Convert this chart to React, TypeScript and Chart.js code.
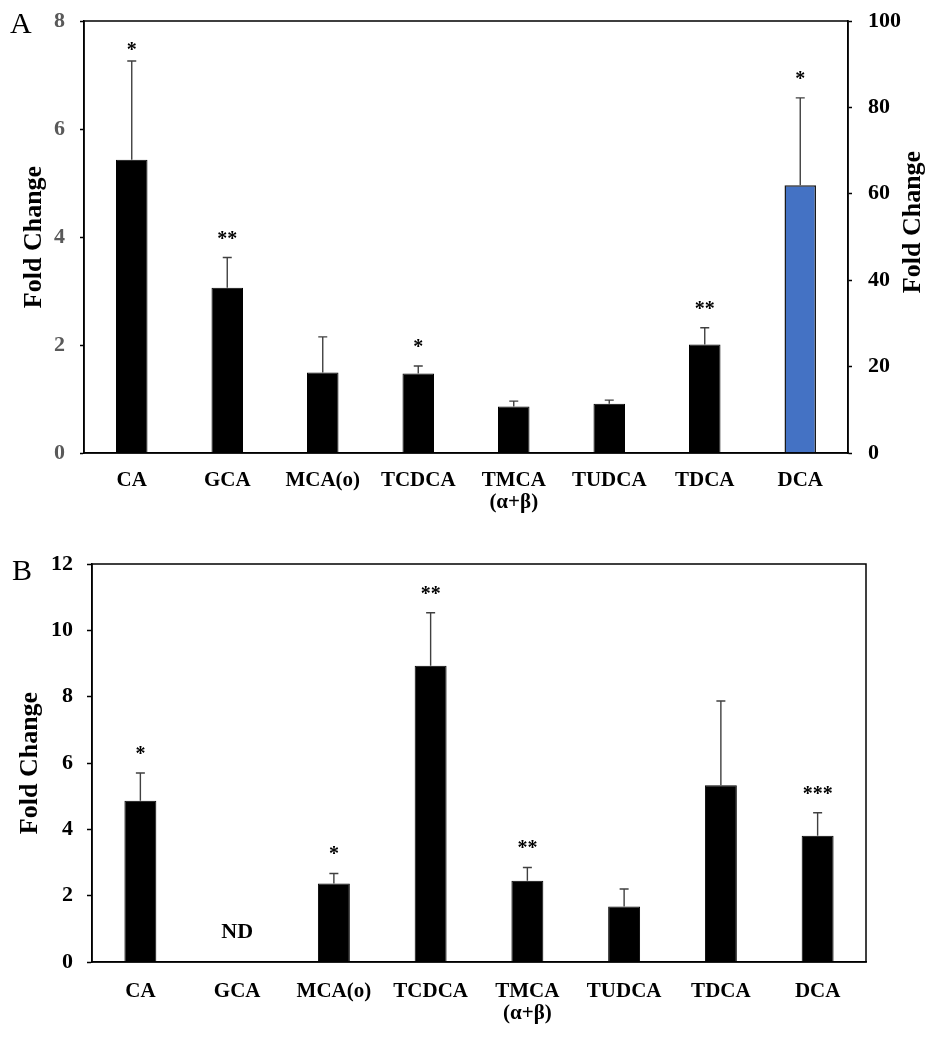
import React, { useEffect, useRef } from "react";
import { Chart, registerables } from "chart.js";
Chart.register(...registerables);

const FONT = "'Times New Roman', 'Liberation Serif', serif";

const categories: (string | string[])[] = ["CA", "GCA", "MCA(o)", "TCDCA", ["TMCA", "(α+β)"], "TUDCA", "TDCA", "DCA"];

// Panel A (left axis: first seven; right axis: DCA)
const aLeftValues = [5.43, 3.06, 1.49, 1.47, 0.86, 0.91, 2.01, null];
const aLeftErrors = [1.83, 0.56, 0.66, 0.14, 0.1, 0.07, 0.31, null];
const aRightValues = [null, null, null, null, null, null, null, 62.0];
const aRightErrors = [null, null, null, null, null, null, null, 20.2];
const aStars = ["*", "**", "", "*", "", "", "**", "*"];
const aLeftTicks = [0, 2, 4, 6, 8];
const aRightTicks = [0, 20, 40, 60, 80, 100];

// Panel B
const bValues = [4.86, null, 2.37, 8.93, 2.45, 1.67, 5.33, 3.81];
const bErrors = [0.84, null, 0.3, 1.6, 0.4, 0.53, 2.54, 0.69];
const bStars = ["*", "", "*", "**", "**", "", "", "***"];
const bNotes = ["", "ND", "", "", "", "", "", ""];
const bTicks = [0, 2, 4, 6, 8, 10, 12];

const annotPlugin = {
  id: "annot",
  afterDatasetsDraw(chart: any, _args: any, opts: any) {
    const ctx = chart.ctx;
    const area = chart.chartArea;
    ctx.save();
    const n = chart.data.labels.length;
    for (let i = 0; i < n; i++) {
      let topPx: number | null = null;
      let xPx: number | null = null;
      chart.data.datasets.forEach((ds: any, di: number) => {
        const v = ds.data[i];
        if (v == null) return;
        const meta = chart.getDatasetMeta(di);
        const bar = meta.data[i];
        const yScale = chart.scales[ds.yAxisID];
        xPx = bar.x;
        topPx = bar.y;
        const err = ds.errors ? ds.errors[i] : null;
        if (err != null) {
          const ePx = yScale.getPixelForValue(v + err);
          ctx.strokeStyle = "#404040";
          ctx.lineWidth = 1.4;
          ctx.beginPath();
          ctx.moveTo(bar.x, bar.y);
          ctx.lineTo(bar.x, ePx);
          ctx.moveTo(bar.x - 4.5, ePx);
          ctx.lineTo(bar.x + 4.5, ePx);
          ctx.stroke();
          topPx = ePx;
        }
      });
      const star = opts.stars ? opts.stars[i] : "";
      if (star && topPx != null && xPx != null) {
        ctx.fillStyle = "#000";
        ctx.font = `bold 20px ${FONT}`;
        ctx.textAlign = "center";
        ctx.textBaseline = "alphabetic";
        ctx.fillText(star, xPx, Math.max((topPx as number) - 13, area.top + 35));
      }
      const note = opts.notes ? opts.notes[i] : "";
      if (note) {
        const xs = chart.scales.x.getPixelForValue(i);
        ctx.fillStyle = "#000";
        ctx.font = `bold 22px ${FONT}`;
        ctx.textAlign = "center";
        ctx.textBaseline = "middle";
        ctx.fillText(note, xs, area.bottom - 30);
      }
    }
    // frame
    ctx.strokeStyle = "#000";
    ctx.lineWidth = 1.5;
    ctx.strokeRect(area.left, area.top, area.right - area.left, area.bottom - area.top);
    // panel letter
    if (opts.panel) {
      ctx.fillStyle = "#000";
      ctx.font = `30px ${FONT}`;
      ctx.textAlign = "left";
      ctx.textBaseline = "alphabetic";
      ctx.fillText(opts.panel, opts.panelX, opts.panelY);
    }
    // right title (reads bottom to top)
    if (opts.rightTitle) {
      ctx.save();
      ctx.translate(opts.rightTitleX, (area.top + area.bottom) / 2 - 15);
      ctx.rotate(-Math.PI / 2);
      ctx.fillStyle = "#000";
      ctx.font = `bold 26px ${FONT}`;
      ctx.textAlign = "center";
      ctx.textBaseline = "middle";
      ctx.fillText(opts.rightTitle, 0, 0);
      ctx.restore();
    }
    ctx.restore();
  },
};

function yAxis(position: "left" | "right", ticks: number[], width: number, color: string, pad: number, tickLen: number, title?: { text: string; pad: number }) {
  return {
    type: "linear",
    position,
    min: ticks[0],
    max: ticks[ticks.length - 1],
    afterBuildTicks: (scale: any) => {
      scale.ticks = ticks.map((v) => ({ value: v }));
    },
    afterFit: (scale: any) => {
      scale.width = width;
      scale.paddingTop = 0;
      scale.paddingBottom = 0;
    },
    grid: { drawOnChartArea: false, drawTicks: true, tickLength: tickLen, tickColor: "#000", tickWidth: 1.5 },
    border: { display: true, color: "#000", width: 1.5 },
    ticks: { color, padding: pad, font: { family: FONT, size: 22, weight: "bold" } },
    title: title
      ? { display: true, text: title.text, color: "#000", padding: { top: title.pad, bottom: 0 }, font: { family: FONT, size: 26, weight: "bold", lineHeight: 1.2 } }
      : { display: false },
  };
}

function xAxis(height: number, pad: number) {
  return {
    type: "category",
    afterFit: (scale: any) => {
      scale.height = height;
    },
    grid: { display: false },
    border: { display: true, color: "#000", width: 1.5 },
    ticks: { color: "#000", padding: pad, maxRotation: 0, autoSkip: false, font: { family: FONT, size: 21, weight: "bold", lineHeight: 1.05 } },
  };
}

function PanelA() {
  const ref = useRef<HTMLCanvasElement>(null);
  useEffect(() => {
    const chart = new Chart(ref.current as HTMLCanvasElement, {
      type: "bar",
      data: {
        labels: categories as any,
        datasets: [
          {
            data: aLeftValues as any,
            errors: aLeftErrors,
            yAxisID: "y",
            backgroundColor: "#000",
            borderColor: "#000",
            borderWidth: 1,
            grouped: false,
            categoryPercentage: 1,
            barPercentage: 0.33,
          } as any,
          {
            data: aRightValues as any,
            errors: aRightErrors,
            yAxisID: "y2",
            backgroundColor: "#4472C4",
            borderColor: "#1a1a1a",
            borderWidth: 1.5,
            grouped: false,
            categoryPercentage: 1,
            barPercentage: 0.33,
          } as any,
        ],
      },
      options: {
        animation: false,
        responsive: false,
        devicePixelRatio: 1,
        layout: { padding: { top: 21, left: 0, right: 0, bottom: 0 } },
        plugins: {
          legend: { display: false },
          tooltip: { enabled: false },
          annot: { stars: aStars, panel: "A", panelX: 10, panelY: 33, rightTitle: "Fold Change", rightTitleX: 913 },
        } as any,
        scales: {
          x: xAxis(67, 9) as any,
          y: yAxis("left", aLeftTicks, 84, "#595959", 15, 4, { text: "Fold Change", pad: 19 }) as any,
          y2: yAxis("right", aRightTicks, 88, "#000", 16, 4) as any,
        },
      },
      plugins: [annotPlugin as any],
    });
    return () => chart.destroy();
  }, []);
  return <canvas ref={ref} width={936} height={520} style={{ display: "block" }} />;
}

function PanelB() {
  const ref = useRef<HTMLCanvasElement>(null);
  useEffect(() => {
    const chart = new Chart(ref.current as HTMLCanvasElement, {
      type: "bar",
      data: {
        labels: categories as any,
        datasets: [
          {
            data: bValues as any,
            errors: bErrors,
            yAxisID: "y",
            backgroundColor: "#000",
            borderColor: "#000",
            borderWidth: 1,
            categoryPercentage: 1,
            barPercentage: 0.33,
          } as any,
        ],
      },
      options: {
        animation: false,
        responsive: false,
        devicePixelRatio: 1,
        layout: { padding: { top: 44, left: 0, right: 70, bottom: 0 } },
        plugins: {
          legend: { display: false },
          tooltip: { enabled: false },
          annot: { stars: bStars, notes: bNotes, panel: "B", panelX: 12, panelY: 60 },
        } as any,
        scales: {
          x: xAxis(88, 11) as any,
          y: yAxis("left", bTicks, 92, "#000", 14, 5, { text: "Fold Change", pad: 15 }) as any,
        },
      },
      plugins: [annotPlugin as any],
    });
    return () => chart.destroy();
  }, []);
  return <canvas ref={ref} width={936} height={530} style={{ display: "block" }} />;
}

export default function App() {
  useEffect(() => {
    document.body.style.margin = "0";
    document.body.style.background = "#fff";
  }, []);
  return (
    <div style={{ width: 936, height: 1050, background: "#fff" }}>
      <PanelA />
      <PanelB />
    </div>
  );
}
